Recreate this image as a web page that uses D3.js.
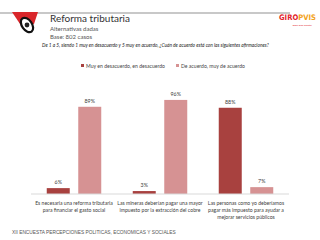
<!DOCTYPE html>
<html>
<head>
<meta charset="utf-8">
<script src="https://cdn.jsdelivr.net/npm/d3@7"></script>
<style>
  body { margin: 0; background: #fff; }
  svg { display: block; font-family: Lato, "Open Sans", sans-serif; }
</style>
</head>
<body>
<div id="chart"></div>
<script>
const categories = [
  ['Es necesaria una reforma tributaria', 'para financiar el gasto social'],
  ['Las mineras deberían pagar una mayor', 'impuesto por la extracción del cobre'],
  ['Las personas como yo deberíamos', 'pagar más impuesto para ayudar a', 'mejorar servicios públicos'],
];
const seriesNames = ['Muy en desacuerdo, en desacuerdo', 'De acuerdo, muy de acuerdo'];
const desacuerdo = [6, 3, 88];
const acuerdo = [89, 96, 7];
const colors = ['#a8413f', '#d69293'];

const width = 320;
const height = 240;
const margin = { top: 96, right: 31, bottom: 46, left: 31 };

const svg = d3.select('#chart')
  .append('svg')
  .attr('width', width)
  .attr('height', height);

// header decoration
svg.append('rect')
  .attr('x', 0).attr('y', 12)
  .attr('width', 290).attr('height', 2)
  .attr('fill', '#c8c8c8');

svg.append('path')
  .attr('d', 'M12,12 L38,12 L34,24 L22,27 Z')
  .attr('fill', '#d9262b');

svg.append('ellipse')
  .attr('cx', 27).attr('cy', 25)
  .attr('rx', 5).attr('ry', 8)
  .attr('transform', 'rotate(-35,27,25)')
  .attr('fill', '#fff')
  .attr('stroke', '#111')
  .attr('stroke-width', 2.2);
svg.append('circle')
  .attr('cx', 27).attr('cy', 25).attr('r', 2.4)
  .attr('fill', '#222');

// logo
const logo = svg.append('text')
  .attr('x', 279).attr('y', 19.5)
  .attr('font-size', 7.6)
  .attr('font-weight', 'bold')
  .attr('font-family', '"DejaVu Sans Condensed", sans-serif');
logo.append('tspan').attr('fill', '#e2232a').text('GIRO');
logo.append('tspan').attr('fill', '#f2a31b').text('PVIS');
svg.append('text')
  .attr('x', 302).attr('y', 25.5)
  .attr('text-anchor', 'middle')
  .attr('font-size', 2.6)
  .attr('fill', '#e2232a')
  .text('Todo bien bonito');

// titles
svg.append('text')
  .attr('x', 50).attr('y', 22)
  .attr('font-size', 10)
  .attr('fill', '#333')
  .text('Reforma tributaria');
svg.append('text')
  .attr('x', 50).attr('y', 31)
  .attr('font-size', 6)
  .attr('fill', '#555')
  .text('Alternativas dadas');
svg.append('text')
  .attr('x', 50).attr('y', 39)
  .attr('font-size', 6)
  .attr('fill', '#555')
  .text('Base: 802 casos');
svg.append('text')
  .attr('x', 42).attr('y', 47)
  .attr('font-size', 4.8)
  .attr('font-style', 'italic')
  .attr('fill', '#222')
  .text('De 1 a 5, siendo 1 muy en desacuerdo y 5 muy en acuerdo, ¿Cuán de acuerdo está con las siguientes afirmaciones?');

// legend
const legendX = [81, 176];
seriesNames.forEach((name, i) => {
  svg.append('rect')
    .attr('x', legendX[i]).attr('y', 64)
    .attr('width', 3).attr('height', 3)
    .attr('fill', colors[i]);
  svg.append('text')
    .attr('x', legendX[i] + 5).attr('y', 67.5)
    .attr('font-size', 5.1)
    .attr('fill', '#444')
    .text(name);
});

// scales
const x0 = d3.scaleBand()
  .domain(d3.range(categories.length))
  .range([margin.left, width - margin.right]);

const x1 = d3.scaleBand()
  .domain([0, 1])
  .range([0, x0.bandwidth()])
  .paddingInner(0.27)
  .paddingOuter(0.5);

const y = d3.scaleLinear()
  .domain([0, 100])
  .range([height - margin.bottom, margin.top]);

const series = [desacuerdo, acuerdo];

const groups = svg.selectAll('.group')
  .data(categories)
  .enter()
  .append('g')
  .attr('class', 'group')
  .attr('transform', (d, i) => `translate(${x0(i)},0)`);

groups.selectAll('rect')
  .data((d, i) => series.map((s, k) => ({ k, v: s[i] })))
  .enter()
  .append('rect')
  .attr('x', (d) => x1(d.k))
  .attr('y', (d) => y(d.v))
  .attr('width', x1.bandwidth())
  .attr('height', (d) => y(0) - y(d.v))
  .attr('fill', (d) => colors[d.k]);

groups.selectAll('.val')
  .data((d, i) => series.map((s, k) => ({ k, v: s[i] })))
  .enter()
  .append('text')
  .attr('class', 'val')
  .attr('x', (d) => x1(d.k) + x1.bandwidth() / 2)
  .attr('y', (d) => y(d.v) - 4)
  .attr('text-anchor', 'middle')
  .attr('font-size', 5.3)
  .attr('fill', '#404040')
  .text((d) => `${d.v}%`);

// axis line
svg.append('line')
  .attr('x1', margin.left).attr('x2', width - margin.right)
  .attr('y1', y(0)).attr('y2', y(0))
  .attr('stroke', '#d9d9d9')
  .attr('stroke-width', 1);

// category labels
groups.append('text')
  .attr('x', x0.bandwidth() / 2)
  .attr('y', y(0) + 11)
  .attr('text-anchor', 'middle')
  .attr('font-size', 5.1)
  .attr('fill', '#404040')
  .selectAll('tspan')
  .data((d) => d)
  .enter()
  .append('tspan')
  .attr('x', x0.bandwidth() / 2)
  .attr('dy', (d, i) => (i === 0 ? 0 : 7))
  .text((d) => d);

// footer
svg.append('text')
  .attr('x', 12).attr('y', 234)
  .attr('font-size', 4.8)
  .attr('fill', '#555')
  .attr('font-family', '"Liberation Sans", Arial, sans-serif')
  .text('XII ENCUESTA PERCEPCIONES POLITICAS, ECONOMICAS Y SOCIALES');
</script>
</body>
</html>
